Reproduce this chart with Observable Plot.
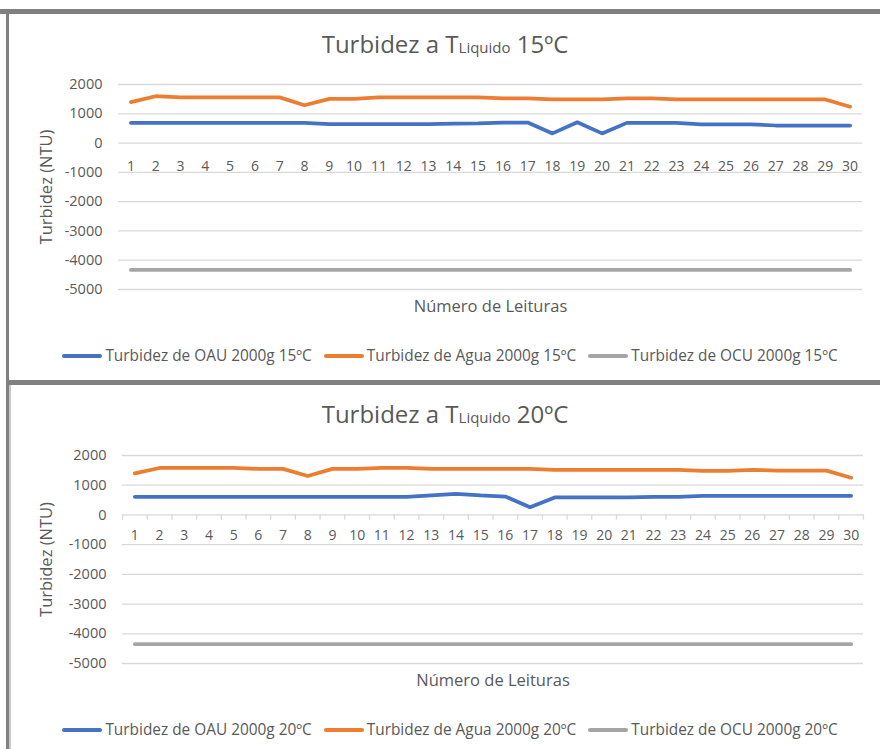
<!DOCTYPE html>
<html><head><meta charset="utf-8">
<script src="https://cdn.jsdelivr.net/npm/d3@7"></script>
<script src="https://cdn.jsdelivr.net/npm/@observablehq/plot@0.6"></script>
<style>
body{margin:0;background:#fff;}
#wrap{position:relative;width:880px;height:749px;overflow:hidden;background:#fff;font-family:"Open Sans",sans-serif;color:#595959;}
.bar{position:absolute;background:#808080;}
.title{position:absolute;left:0;width:890px;text-align:center;font-size:24px;line-height:30px;white-space:nowrap;}
.title .sub{font-size:15px;}
.legend{position:absolute;left:0;width:900px;display:flex;justify-content:center;align-items:center;font-size:15.4px;line-height:20px;white-space:nowrap;}
.item{display:flex;align-items:center;margin:0 6px;}
.sw{width:40px;height:4px;border-radius:2px;margin-right:3px;}
.chart{position:absolute;left:0;}
</style></head>
<body><div id="wrap"></div>
<script>
const readings = [1,2,3,4,5,6,7,8,9,10,11,12,13,14,15,16,17,18,19,20,21,22,23,24,25,26,27,28,29,30];
const yTicks = [2000,1000,0,-1000,-2000,-3000,-4000,-5000];

const oau15  = [690,690,690,690,690,690,690,690,650,650,650,650,650,660,670,700,700,330,710,330,690,690,690,640,640,640,600,600,600,600];
const agua15 = [1400,1600,1560,1560,1560,1560,1560,1290,1510,1510,1560,1560,1560,1560,1560,1525,1525,1490,1490,1490,1525,1525,1490,1490,1490,1490,1490,1490,1490,1240];
const ocu15  = [-4330,-4330,-4330,-4330,-4330,-4330,-4330,-4330,-4330,-4330,-4330,-4330,-4330,-4330,-4330,-4330,-4330,-4330,-4330,-4330,-4330,-4330,-4330,-4330,-4330,-4330,-4330,-4330,-4330,-4330];

const oau20  = [610,610,610,610,610,610,610,610,610,610,610,610,660,710,655,620,260,590,590,590,590,610,610,645,645,645,645,645,645,645];
const agua20 = [1400,1580,1580,1580,1580,1550,1550,1310,1550,1550,1580,1580,1550,1550,1550,1550,1550,1515,1515,1515,1515,1515,1515,1480,1480,1520,1490,1490,1490,1250];
const ocu20  = [-4350,-4350,-4350,-4350,-4350,-4350,-4350,-4350,-4350,-4350,-4350,-4350,-4350,-4350,-4350,-4350,-4350,-4350,-4350,-4350,-4350,-4350,-4350,-4350,-4350,-4350,-4350,-4350,-4350,-4350];

const seriesNames15 = ["Turbidez de OAU 2000g 15ºC","Turbidez de Agua 2000g 15ºC","Turbidez de OCU 2000g 15ºC"];
const seriesNames20 = ["Turbidez de OAU 2000g 20ºC","Turbidez de Agua 2000g 20ºC","Turbidez de OCU 2000g 20ºC"];
const colors = ["#4472C4","#ED7D31","#A5A5A5"];
const yTitle = "Turbidez (NTU)";
const xTitle = "Número de Leituras";

const wrap = document.getElementById("wrap");
function div(cls, style, html){const d=document.createElement("div");d.className=cls;Object.assign(d.style,style);if(html!=null)d.innerHTML=html;wrap.appendChild(d);return d;}

// frame borders
div("bar",{left:"0px",top:"9px",width:"880px",height:"5px"});
div("bar",{left:"6px",top:"9px",width:"3px",height:"740px"});
div("bar",{left:"6px",top:"380px",width:"874px",height:"5px"});
div("bar",{left:"9px",top:"385px",width:"2px",height:"364px",background:"#c8c8c8"});

function makeChart({top, height, mt, mb, ml, mr, series, tickDy, ticks, titleTemp, titleTop, legendTop, names}){
  const rows = readings.map((r,i)=>({r, a: series[0][i], b: series[1][i], c: series[2][i]}));
  const edges = readings.map(r=>r-0.5).concat([readings[readings.length-1]+0.5]);
  const marks = [
    Plot.gridY(yTicks,{stroke:"#d9d9d9",strokeOpacity:1,strokeWidth:1.3}),
    Plot.axisY(yTicks,{tickSize:0,tickPadding:16,fontSize:14.5,tickFormat:d=>String(d),label:null}),
  ];
  if (ticks) marks.push(Plot.ruleX(edges,{x:d=>d,y1:0,y2:-175,stroke:"#d9d9d9",strokeWidth:1.3}));
  marks.push(
    Plot.text(readings,{x:d=>d,y:0,dy:tickDy,text:d=>String(d),fontSize:14,fill:"#595959"}),
    Plot.line(rows,{x:"r",y:"a",stroke:colors[0],strokeWidth:3.75,strokeLinecap:"round",strokeLinejoin:"round"}),
    Plot.line(rows,{x:"r",y:"b",stroke:colors[1],strokeWidth:3.75,strokeLinecap:"round",strokeLinejoin:"round"}),
    Plot.line(rows,{x:"r",y:"c",stroke:colors[2],strokeWidth:3.75,strokeLinecap:"round",strokeLinejoin:"round"}),
    Plot.text([yTitle],{frameAnchor:"left",rotate:-90,dx:-(ml-46),textAnchor:"middle",lineAnchor:"middle",fontSize:16.5,fill:"#595959"}),
    Plot.text([xTitle],{frameAnchor:"bottom",dy:17,textAnchor:"middle",lineAnchor:"middle",fontSize:16.5,fill:"#595959"})
  );
  const svg = Plot.plot({
    width:880, height, marginTop:mt, marginBottom:mb, marginLeft:ml, marginRight:mr,
    x:{type:"linear",domain:[0.5,30.5],axis:null},
    y:{domain:[-5000,2000]},
    style:{fontFamily:'"Open Sans", sans-serif',color:"#595959",background:"transparent",overflow:"visible"},
    marks
  });
  const holder = div("chart",{top:top+"px"});
  holder.appendChild(svg);
  div("title",{top:titleTop+"px"},`Turbidez a T<span class="sub">Liquido</span> ${titleTemp}`);
  const lg = div("legend",{top:legendTop+"px"});
  names.forEach((n,i)=>{
    const it=document.createElement("div");it.className="item";
    it.innerHTML=`<span class="sw" style="background:${colors[i]}"></span><span>${n}</span>`;
    lg.appendChild(it);
  });
}

makeChart({top:60,height:260,mt:24,mb:31,ml:118,mr:18,series:[oau15,agua15,ocu15],tickDy:23,ticks:false,titleTemp:"15ºC",titleTop:29,legendTop:346,names:seriesNames15});
makeChart({top:430,height:260,mt:25,mb:27,ml:122,mr:17,series:[oau20,agua20,ocu20],tickDy:21,ticks:true,titleTemp:"20ºC",titleTop:399,legendTop:720,names:seriesNames20});
</script></body></html>
